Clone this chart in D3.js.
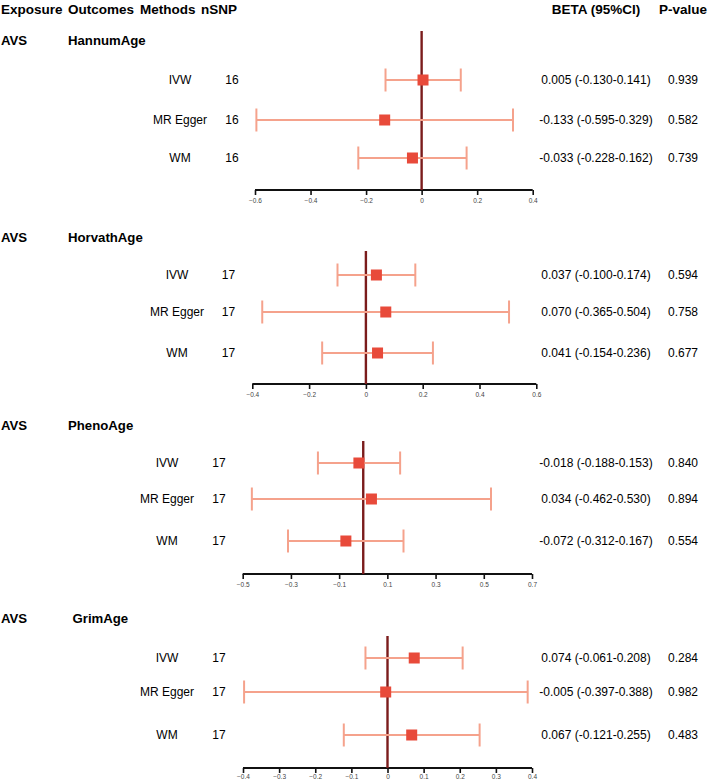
<!DOCTYPE html>
<html><head><meta charset="utf-8">
<script src="https://cdn.jsdelivr.net/npm/d3@7"></script>
<style>body{margin:0;background:#fff}svg{display:block;font-family:Arial,"Liberation Sans",sans-serif}</style>
</head><body><svg id="c" width="708" height="781"></svg>
<script>
// ---- data ----
const exposure = "AVS";
const outcomes = ["HannumAge","HorvathAge","PhenoAge","GrimAge"];
const methods = ["IVW","MR Egger","WM"];
const nSNP = [16,17,17,17];
const beta = [[0.005,-0.133,-0.033],[0.037,0.070,0.041],[-0.018,0.034,-0.072],[0.074,-0.005,0.067]];
const lower = [[-0.130,-0.595,-0.228],[-0.100,-0.365,-0.154],[-0.188,-0.462,-0.312],[-0.061,-0.397,-0.121]];
const upper = [[0.141,0.329,0.162],[0.174,0.504,0.236],[0.153,0.530,0.167],[0.208,0.388,0.255]];
const pvals = [["0.939","0.582","0.739"],["0.594","0.758","0.677"],["0.840","0.894","0.554"],["0.284","0.982","0.483"]];
const ciText = [["0.005 (-0.130-0.141)","-0.133 (-0.595-0.329)","-0.033 (-0.228-0.162)"],
  ["0.037 (-0.100-0.174)","0.070 (-0.365-0.504)","0.041 (-0.154-0.236)"],
  ["-0.018 (-0.188-0.153)","0.034 (-0.462-0.530)","-0.072 (-0.312-0.167)"],
  ["0.074 (-0.061-0.208)","-0.005 (-0.397-0.388)","0.067 (-0.121-0.255)"]];
const domains = [[-0.6,0.4],[-0.4,0.6],[-0.5,0.7],[-0.4,0.4]];
const tickVals = [[-0.6,-0.4,-0.2,0,0.2,0.4],[-0.4,-0.2,0,0.2,0.4,0.6],[-0.5,-0.3,-0.1,0.1,0.3,0.5,0.7],[-0.4,-0.3,-0.2,-0.1,0,0.1,0.2,0.3,0.4]];
const headers = ["Exposure","Outcomes","Methods","nSNP"];

// ---- layout ----
const L = [
  {title:40, rows:[80,120,158], axis:190, vtop:31, x0:255, x1:532.7, mx:180, nx:232, ox:68},
  {title:237, rows:[275,312,353], axis:384, vtop:251, x0:252.3, x1:536.3, mx:177, nx:228.5, ox:68},
  {title:425, rows:[463,499,541], axis:574, vtop:441, x0:242.7, x1:532, mx:167, nx:219, ox:68},
  {title:618, rows:[658,692,735], axis:768, vtop:636, x0:243, x1:532, mx:167, nx:219, ox:72.5}
];
const COL = {ci:"#F5A28C", pt:"#E84A3A", vline:"#7B1C1C"};
const svg = d3.select("#c");

// header
const hx = [1,68,140,201];
headers.forEach((h,k)=>{
  svg.append("text").attr("x",hx[k]).attr("y",14).attr("font-weight","bold").attr("font-size",13.5).text(h);
});
svg.append("text").attr("x",596).attr("y",14).attr("text-anchor","middle").attr("font-weight","bold").attr("font-size",13.5).text("BETA (95%CI)");
svg.append("text").attr("x",683).attr("y",14).attr("text-anchor","middle").attr("font-weight","bold").attr("font-size",13.5).text("P-value");

outcomes.forEach((o,i)=>{
  const l = L[i];
  const g = svg.append("g");
  const x = d3.scaleLinear().domain(domains[i]).range([l.x0,l.x1]);
  g.append("text").attr("x",1).attr("y",l.title).attr("dy","0.35em").attr("font-weight","bold").attr("font-size",13.2).text(exposure);
  g.append("text").attr("x",l.ox).attr("y",l.title).attr("dy","0.35em").attr("font-weight","bold").attr("font-size",13.2).text(o);
  // axis
  const ax = d3.axisBottom(x).tickValues(tickVals[i]).tickSize(5)
     .tickFormat(d=>d===0?"0":d3.format("")(+d.toFixed(1)));
  const ag = g.append("g").attr("transform",`translate(0,${l.axis})`).call(ax);
  ag.select(".domain").attr("stroke","#111").attr("stroke-width",2).attr("d",`M${l.x0},0H${l.x1}`);
  ag.selectAll(".tick line").attr("stroke","#111").attr("stroke-width",1.6);
  ag.selectAll(".tick text").attr("font-size",6.5).attr("fill","#444").attr("y",i===3?6.5:8).attr("font-family","Arial,'Liberation Sans',sans-serif");
  // zero line
  g.append("line").attr("x1",x(0)).attr("x2",x(0)).attr("y1",l.vtop).attr("y2",l.axis)
   .attr("stroke",COL.vline).attr("stroke-width",2.4);
  methods.forEach((m,j)=>{
    const y = l.rows[j];
    g.append("text").attr("x",l.mx).attr("y",y).attr("dy","0.35em").attr("text-anchor","middle").attr("font-size",12).text(m);
    g.append("text").attr("x",l.nx).attr("y",y).attr("dy","0.35em").attr("text-anchor","middle").attr("font-size",12).text(nSNP[i]);
    g.append("line").attr("x1",x(lower[i][j])).attr("x2",x(upper[i][j])).attr("y1",y).attr("y2",y).attr("stroke",COL.ci).attr("stroke-width",2);
    [lower[i][j],upper[i][j]].forEach(v=>{
      g.append("line").attr("x1",x(v)).attr("x2",x(v)).attr("y1",y-11.5).attr("y2",y+11.5).attr("stroke",COL.ci).attr("stroke-width",2);
    });
    g.append("rect").attr("x",x(beta[i][j])-5.5).attr("y",y-5.5).attr("width",11).attr("height",11).attr("fill",COL.pt);
    g.append("text").attr("x",596).attr("y",y).attr("dy","0.35em").attr("text-anchor","middle").attr("font-size",12).text(ciText[i][j]);
    g.append("text").attr("x",683).attr("y",y).attr("dy","0.35em").attr("text-anchor","middle").attr("font-size",12).text(pvals[i][j]);
  });
});
</script></body></html>
